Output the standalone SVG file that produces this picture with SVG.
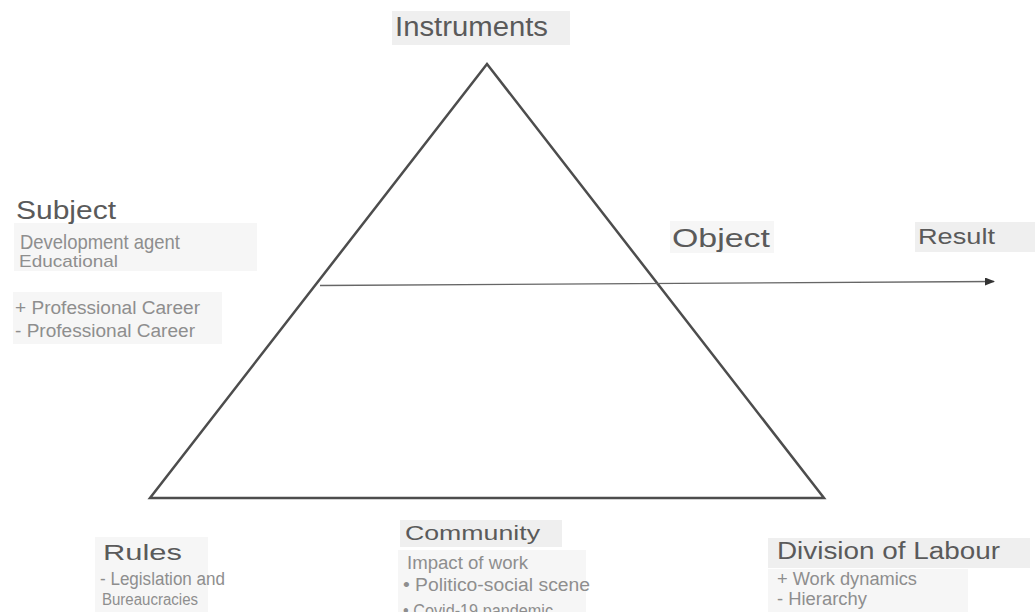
<svg xmlns="http://www.w3.org/2000/svg" width="1035" height="612" viewBox="0 0 1035 612">
  <style>
    .h { font-family: "Liberation Sans", Arial, sans-serif; fill: #5a5a5a; }
    .d { font-family: "Liberation Sans", Arial, sans-serif; fill: #8e8e8e; }
    .bg { fill: #efefef; }
    .bg2 { fill: #f6f6f6; }
  </style>
  <defs>
    <marker id="arrow" markerWidth="10" markerHeight="8" refX="9" refY="4" orient="auto" markerUnits="userSpaceOnUse">
      <path d="M0,0 L10,4 L0,8 Z" fill="#333"/>
    </marker>
  </defs>
  <rect width="1035" height="612" fill="#ffffff"/>

  <g id="triangle">
    <polygon points="487,64 150,498 824,498" fill="none" stroke="#4d4d4d" stroke-width="2.5" stroke-linejoin="miter"/>
  </g>

  <g id="connectors">
    <line x1="320" y1="285.5" x2="994" y2="281.5" stroke="#666" stroke-width="1.4" marker-end="url(#arrow)"/>
  </g>

  <g id="instruments">
    <rect class="bg" x="392" y="11" width="178" height="34"/>
    <text class="h" x="395" y="36" font-size="27" textLength="153" lengthAdjust="spacingAndGlyphs">Instruments</text>
  </g>

  <g id="subject">
    <rect class="bg2" x="14" y="223" width="243" height="48"/>
    <rect class="bg2" x="13" y="292" width="209" height="52"/>
    <text class="h" x="16" y="219" font-size="25" textLength="100" lengthAdjust="spacingAndGlyphs">Subject</text>
    <text class="d" x="20" y="249" font-size="21" textLength="160" lengthAdjust="spacingAndGlyphs">Development agent</text>
    <text class="d" x="19" y="267" font-size="17" textLength="99" lengthAdjust="spacingAndGlyphs">Educational</text>
    <text class="d" x="15" y="314" font-size="18" textLength="185" lengthAdjust="spacingAndGlyphs">+ Professional Career</text>
    <text class="d" x="15" y="337" font-size="18" textLength="180" lengthAdjust="spacingAndGlyphs">- Professional Career</text>
  </g>

  <g id="object">
    <rect class="bg2" x="670" y="221" width="104" height="32"/>
    <text class="h" x="672" y="247" font-size="25" textLength="98" lengthAdjust="spacingAndGlyphs">Object</text>
  </g>

  <g id="result">
    <rect class="bg" x="915" y="222" width="120" height="30"/>
    <text class="h" x="918" y="244" font-size="22" textLength="77" lengthAdjust="spacingAndGlyphs">Result</text>
  </g>

  <g id="rules">
    <rect class="bg2" x="95" y="537" width="113" height="75"/>
    <text class="h" x="103" y="560" font-size="22" textLength="79" lengthAdjust="spacingAndGlyphs">Rules</text>
    <text class="d" x="100" y="585" font-size="18" textLength="125" lengthAdjust="spacingAndGlyphs">- Legislation and</text>
    <text class="d" x="102" y="605" font-size="16" textLength="96" lengthAdjust="spacingAndGlyphs">Bureaucracies</text>
  </g>

  <g id="community">
    <rect class="bg" x="400" y="520" width="162" height="27"/>
    <rect class="bg2" x="398" y="550" width="188" height="62"/>
    <text class="h" x="405" y="540" font-size="21" textLength="135" lengthAdjust="spacingAndGlyphs">Community</text>
    <text class="d" x="407" y="569" font-size="18" textLength="121" lengthAdjust="spacingAndGlyphs">Impact of work</text>
    <text class="d" x="403" y="591" font-size="18" textLength="187" lengthAdjust="spacingAndGlyphs">• Politico-social scene</text>
    <text class="d" x="403" y="617" font-size="18" textLength="150" lengthAdjust="spacingAndGlyphs">•  Covid-19 pandemic</text>
  </g>

  <g id="division">
    <rect class="bg" x="768" y="538" width="262" height="30"/>
    <rect class="bg2" x="768" y="569" width="200" height="43"/>
    <text class="h" x="777" y="559" font-size="23" textLength="223" lengthAdjust="spacingAndGlyphs">Division of Labour</text>
    <text class="d" x="777" y="585" font-size="18" textLength="140" lengthAdjust="spacingAndGlyphs">+ Work dynamics</text>
    <text class="d" x="777" y="605" font-size="18" textLength="90" lengthAdjust="spacingAndGlyphs">- Hierarchy</text>
  </g>
</svg>
